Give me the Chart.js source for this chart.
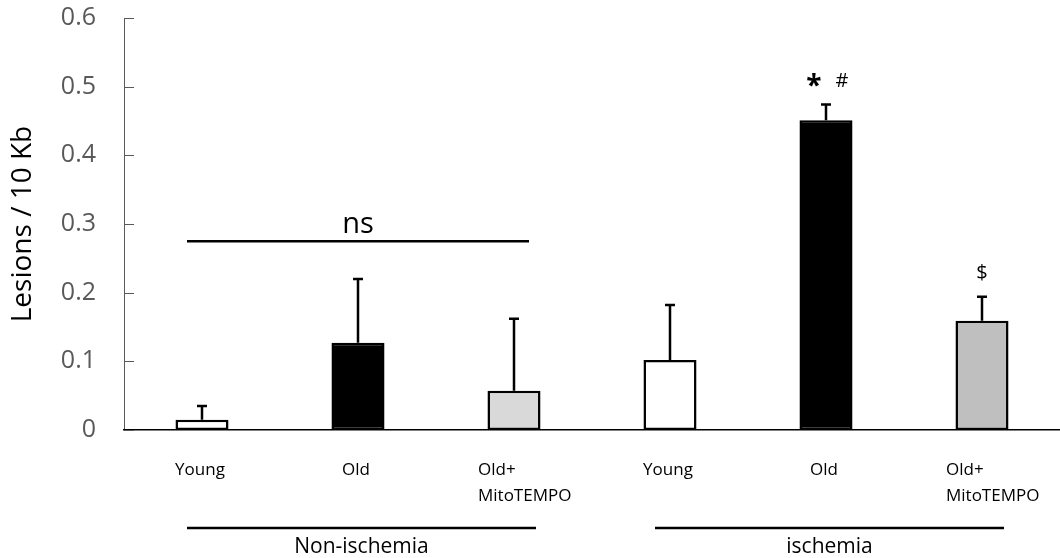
<!DOCTYPE html>
<html>
<head>
<meta charset="utf-8">
<script src="https://cdn.jsdelivr.net/npm/chart.js@4.4.1/dist/chart.umd.min.js"></script>
<style>
  html, body { margin: 0; padding: 0; background: #fff; }
  #wrap { width: 1060px; height: 558px; position: relative; }
</style>
</head>
<body>
<div id="wrap"><canvas id="lesionChart"></canvas></div>
<script>
// datos
const categories = ['Young', 'Old', ['Old+', 'MitoTEMPO'], 'Young', 'Old', ['Old+', 'MitoTEMPO']];
const lesionValues = [0.015, 0.127, 0.057, 0.102, 0.451, 0.159];
const lesionErrors = [0.020, 0.093, 0.105, 0.080, 0.023, 0.035];
const barColors = ['#ffffff', '#000000', '#d9d9d9', '#ffffff', '#000000', '#bfbfbf'];
const yTicks = [0, 0.1, 0.2, 0.3, 0.4, 0.5, 0.6];
const groups = ['Non-ischemia', 'ischemia'];
const markers = ['', '', '', '', '*  #', '$'];

const FONT = "'Open Sans', sans-serif";

// barras de error, marcas del eje y anotaciones
const annotations = {
    id: 'annotations',
    afterDatasetsDraw(chart) {
        const ctx = chart.ctx;
        const x = chart.scales.x;
        const y = chart.scales.y;
        ctx.save();

        // barras de error (solo hacia arriba)
        ctx.strokeStyle = '#000';
        ctx.lineWidth = 2.5;
        lesionValues.forEach(function(v, i) {
            const cx = x.getPixelForValue(i);
            const top = y.getPixelForValue(v + lesionErrors[i]);
            ctx.beginPath();
            ctx.moveTo(cx, y.getPixelForValue(v));
            ctx.lineTo(cx, top);
            ctx.moveTo(cx - 5, top);
            ctx.lineTo(cx + 5, top);
            ctx.stroke();
        });

        // marcas del eje y hacia adentro
        ctx.strokeStyle = '#595959';
        ctx.lineWidth = 1;
        yTicks.forEach(function(t) {
            const py = Math.round(y.getPixelForValue(t)) + 0.5;
            ctx.beginPath();
            ctx.moveTo(chart.chartArea.left, py);
            ctx.lineTo(chart.chartArea.left + 10, py);
            ctx.stroke();
        });

        // etiquetas de categoría
        ctx.fillStyle = '#000';
        ctx.font = '17px ' + FONT;
        ctx.textBaseline = 'middle';
        categories.forEach(function(c, i) {
            const cx = x.getPixelForValue(i);
            if (Array.isArray(c)) {
                ctx.textAlign = 'left';
                ctx.fillText(c[0], cx - 36, 470);
                ctx.fillText(c[1], cx - 36, 496);
            } else {
                ctx.textAlign = 'center';
                ctx.fillText(c, cx - 2, 470);
            }
        });

        // líneas de grupo
        ctx.lineWidth = 2.5;
        ctx.strokeStyle = '#000';
        ctx.font = '21px ' + FONT;
        ctx.textAlign = 'center';
        groups.forEach(function(g, gi) {
            const x0 = x.getPixelForValue(gi * 3) - 15;
            const x1 = x.getPixelForValue(gi * 3 + 2) + 22;
            ctx.beginPath();
            ctx.moveTo(x0, 528);
            ctx.lineTo(x1, 528);
            ctx.stroke();
            ctx.fillText(g, (x0 + x1) / 2, 547);
        });

        // ns
        const nsY = y.getPixelForValue(0.275);
        const ns0 = x.getPixelForValue(0) - 15;
        const ns1 = x.getPixelForValue(2) + 15;
        ctx.beginPath();
        ctx.moveTo(ns0, nsY);
        ctx.lineTo(ns1, nsY);
        ctx.stroke();
        ctx.font = '29px ' + FONT;
        ctx.textBaseline = 'alphabetic';
        ctx.fillText('ns', (ns0 + ns1) / 2, nsY - 8);

        // marcadores de significancia
        markers.forEach(function(m, i) {
            if (!m) return;
            const top = y.getPixelForValue(lesionValues[i] + lesionErrors[i]);
            const cx = x.getPixelForValue(i);
            if (m === '$') {
                ctx.font = '20px ' + FONT;
                ctx.fillText(m, cx, top - 18);
            } else {
                ctx.font = 'bold 28px ' + FONT;
                ctx.fillText('*', cx - 12, top - 10);
                ctx.font = '20px ' + FONT;
                ctx.fillText('#', cx + 16, top - 18);
            }
        });

        ctx.restore();
    }
};

document.addEventListener('DOMContentLoaded', function() {
    const ctx = document.getElementById('lesionChart');
    new Chart(ctx, {
        type: 'bar',
        data: {
            labels: categories,
            datasets: [{
                data: lesionValues,
                backgroundColor: barColors,
                borderColor: '#000',
                borderWidth: 2.5,
                borderSkipped: false,
                barPercentage: 0.34,
                categoryPercentage: 1
            }]
        },
        options: {
            responsive: true,
            maintainAspectRatio: false,
            animation: false,
            layout: {
                padding: { top: 18, right: 0, bottom: 120, left: 0 }
            },
            plugins: {
                legend: { display: false },
                tooltip: { enabled: false }
            },
            scales: {
                y: {
                    min: 0,
                    max: 0.6,
                    afterFit: function(scale) {
                        scale.width = 124;
                        scale.paddingTop = 0;
                        scale.paddingBottom = 0;
                    },
                    afterBuildTicks: function(scale) {
                        scale.ticks = yTicks.map(function(v) { return { value: v }; });
                    },
                    border: { display: true, color: '#595959', width: 1 },
                    grid: { display: false },
                    ticks: {
                        color: '#595959',
                        padding: 20,
                        font: { family: FONT, size: 25 },
                        callback: function(v) { return v === 0 ? '0' : v.toFixed(1); }
                    },
                    title: {
                        display: true,
                        text: 'Lesions / 10 Kb',
                        color: '#000',
                        font: { family: FONT, size: 28 },
                        padding: { top: 6, bottom: 0 }
                    }
                },
                x: {
                    border: { display: true, color: '#000', width: 1.5 },
                    grid: { display: false },
                    ticks: { display: false }
                }
            }
        },
        plugins: [annotations]
    });
});
</script>
</body>
</html>
